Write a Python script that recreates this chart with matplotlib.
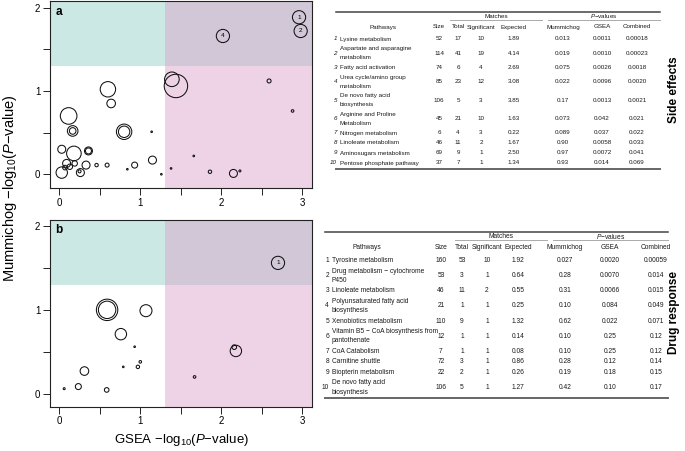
import matplotlib
matplotlib.use('Agg')
import matplotlib.pyplot as plt
from matplotlib.patches import Rectangle
from matplotlib.transforms import Affine2D

plt.rcParams['font.family'] = 'Liberation Sans'
plt.rcParams['mathtext.fontset'] = 'custom'
plt.rcParams['mathtext.rm'] = 'Liberation Sans'
plt.rcParams['mathtext.it'] = 'Liberation Sans:italic'
plt.rcParams['mathtext.bf'] = 'Liberation Sans:bold'

# ---- panel a: side effects (GSEA -log10 p, Mummichog -log10 p, bubble radius) ----
a_gsea = [2.59, 2.88, 1.39, 1.44, 2.23, 2.15, 1.86, 1.66, 1.38, 1.26, 1.14, 1.15,
          0.93, 0.84, 0.80, 0.80, 0.60, 0.64, 0.59, 0.46, 0.36, 0.36, 0.33, 0.26,
          0.25, 0.18, 0.165, 0.165, 0.115, 0.03, 0.03, 0.09, 0.19, 0.13, 0.07]
a_mum = [1.12, 0.76, 1.14, 1.06, 0.04, 0.01, 0.03, 0.22, 0.07, 0.00, 0.51, 0.17,
         0.11, 0.06, 0.51, 0.51, 1.02, 0.85, 0.11, 0.11, 0.28, 0.28, 0.11, 0.02,
         0.035, 0.25, 0.52, 0.52, 0.70, 0.30, 0.02, 0.13, 0.13, 0.09, 0.08]
a_rad = [2.0, 1.3, 7.3, 11.7, 1.0, 4.0, 1.7, 0.8, 0.8, 0.8, 0.8, 4.0,
         3.0, 0.8, 7.7, 5.7, 7.7, 4.3, 2.0, 1.7, 4.0, 3.0, 4.0, 4.0,
         1.5, 7.3, 5.3, 3.3, 8.3, 4.0, 5.7, 4.0, 2.7, 2.7, 2.3]
a_lab_gsea = [2.96, 2.98, 2.02]
a_lab_mum = [1.885, 1.72, 1.66]
a_lab_txt = ['1', '2', '4']

# ---- panel b: drug response ----
b_gsea = [0.59, 0.59, 1.07, 0.76, 0.93, 1.00, 0.97, 0.79, 0.31, 0.235, 0.585,
          0.06, 2.18, 2.16, 1.67]
b_mum = [1.00, 1.00, 0.99, 0.71, 0.56, 0.38, 0.32, 0.32, 0.27, 0.085, 0.045,
         0.06, 0.51, 0.555, 0.20]
b_rad = [10.7, 8.7, 6.0, 5.7, 0.8, 1.3, 1.7, 0.8, 4.3, 3.0, 2.3,
         1.0, 5.7, 2.3, 1.3]
b_lab_gsea = [2.70]
b_lab_mum = [1.56]
b_lab_txt = ['1']

# ---- tables ----
se_path = ['Lysine metabolism', 'Aspartate and asparagine\nmetabolism', 'Fatty acid activation',
           'Urea cycle/amino group\nmetabolism', 'De novo fatty acid\nbiosynthesis',
           'Arginine and Proline\nMetabolism', 'Nitrogen metabolism', 'Linoleate metabolism',
           'Aminosugars metabolism', 'Pentose phosphate pathway']
se_size = ['52', '114', '74', '85', '106', '45', '6', '46', '69', '37']
se_total = ['17', '41', '6', '23', '5', '21', '4', '11', '9', '7']
se_sig = ['10', '19', '4', '12', '3', '10', '3', '2', '1', '1']
se_exp = ['1.89', '4.14', '2.69', '3.08', '3.85', '1.63', '0.22', '1.67', '2.50', '1.34']
se_mum = ['0.013', '0.019', '0.075', '0.022', '0.17', '0.073', '0.089', '0.90', '0.97', '0.93']
se_gsea = ['0.0011', '0.0010', '0.0026', '0.0096', '0.0013', '0.042', '0.037', '0.0058', '0.0072', '0.014']
se_comb = ['0.00018', '0.00023', '0.0018', '0.0020', '0.0021', '0.021', '0.022', '0.033', '0.041', '0.069']

dr_path = ['Tyrosine metabolism', 'Drug metabolism \u2212 cytochrome\nP450', 'Linoleate metabolism',
           'Polyunsaturated fatty acid\nbiosynthesis', 'Xenobiotics metabolism',
           'Vitamin B5 \u2212 CoA biosynthesis from\npantothenate', 'CoA Catabolism',
           'Carnitine shuttle', 'Biopterin metabolism', 'De novo fatty acid\nbiosynthesis']
dr_size = ['160', '53', '46', '21', '110', '12', '7', '72', '22', '106']
dr_total = ['53', '3', '11', '1', '9', '1', '1', '3', '2', '5']
dr_sig = ['10', '1', '2', '1', '1', '1', '1', '1', '1', '1']
dr_exp = ['1.92', '0.64', '0.55', '0.25', '1.32', '0.14', '0.08', '0.86', '0.26', '1.27']
dr_mum = ['0.027', '0.28', '0.31', '0.10', '0.62', '0.10', '0.10', '0.28', '0.19', '0.42']
dr_gsea = ['0.0020', '0.0070', '0.0066', '0.084', '0.022', '0.25', '0.25', '0.12', '0.18', '0.10']
dr_comb = ['0.00059', '0.014', '0.015', '0.049', '0.071', '0.12', '0.12', '0.14', '0.15', '0.17']

headers = ['Size', 'Total', 'Significant', 'Expected', 'Mummichog', 'GSEA', 'Combined']

W, H = 685, 451
fig = plt.figure(figsize=(W / 100, H / 100), dpi=100)
px = Affine2D().scale(1 / W, -1 / H).translate(0, 1) + fig.transFigure

thr = 1.301
c_teal = '#cbe8e5'
c_purp = '#d1c7d7'
c_pink = '#eed3e6'


def scatter_panel(rect, ylim, gx, my, rad, lgx, lmy, ltxt, letter):
    ax = fig.add_axes(rect)
    x0, x1 = -0.115, 3.12
    y0, y1 = ylim
    ax.set_xlim(x0, x1)
    ax.set_ylim(y0, y1)
    ax.add_patch(Rectangle((x0, thr), thr - x0, y1 - thr, color=c_teal, lw=0, zorder=0))
    ax.add_patch(Rectangle((thr, thr), x1 - thr, y1 - thr, color=c_purp, lw=0, zorder=0))
    ax.add_patch(Rectangle((thr, y0), x1 - thr, thr - y0, color=c_pink, lw=0, zorder=0))
    sizes = [(1.44 * r) ** 2 for r in rad]
    ax.scatter(gx, my, s=sizes, facecolors='none', edgecolors='#111111', linewidths=0.75, zorder=3)
    ax.scatter(lgx, lmy, s=(1.44 * 6.6) ** 2, facecolors='none', edgecolors='#111111',
               linewidths=0.75, zorder=3)
    for x, y, t in zip(lgx, lmy, ltxt):
        ax.text(x, y, t, fontsize=4.6, ha='center', va='center', zorder=4)
    ax.set_xticks([0, 1, 2, 3])
    ax.set_xticks([0.5, 1.5, 2.5], minor=True)
    ax.set_yticks([0, 1, 2])
    ax.set_yticks([0.5, 1.5], minor=True)
    ax.tick_params(which='both', length=5, width=0.7, direction='out', labelsize=7,
                   color='#222222', pad=2)
    for sp in ax.spines.values():
        sp.set_linewidth(0.8)
        sp.set_color('#222222')
    ax.text(0.02, 0.975, letter, transform=ax.transAxes, fontsize=8.5, fontweight='bold',
            ha='left', va='top')
    return ax


scatter_panel([50 / W, 1 - 188 / H, 262 / W, 187 / H], (-0.165, 2.08),
              a_gsea, a_mum, a_rad, a_lab_gsea, a_lab_mum, a_lab_txt, 'a')
scatter_panel([50 / W, 1 - 406.7 / H, 262 / W, 187 / H], (-0.155, 2.075),
              b_gsea, b_mum, b_rad, b_lab_gsea, b_lab_mum, b_lab_txt, 'b')

fig.text(181 / W, 1 - 440 / H, r'GSEA $-$log$_{10}$($\it{P}$$-$value)', fontsize=9.5,
         ha='center', va='center')
fig.text(10 / W, 1 - 188 / H, r'Mummichog $-$log$_{10}$($\it{P}$$-$value)', fontsize=10.5,
         ha='center', va='center', rotation=90)


def hline(x0, x1, y, color, lw):
    fig.add_artist(plt.Line2D([x0, x1], [y, y], transform=px, color=color, lw=lw))


def draw_table(y_top, x0, x1, k, num_x, path_x, path_hdr_x, cols_x, m_span, p_span,
               paths, cols, num_italic):
    fs = 4.5 * k
    tc = '#1a1a1a'
    hline(x0, x1, y_top, '#444444', 1.1)
    hline(m_span[0], m_span[1], y_top + 8 * k, '#aaaaaa', 0.7)
    hline(p_span[0], p_span[1], y_top + 8 * k, '#aaaaaa', 0.7)
    fig.text(sum(m_span) / 2, y_top + 4.3 * k, 'Matches', transform=px, fontsize=fs,
             ha='center', va='center', color=tc)
    fig.text(sum(p_span) / 2, y_top + 4.3 * k, r'$\it{P}$$-$values', transform=px,
             fontsize=fs, ha='center', va='center', color=tc)
    yh = y_top + 15 * k
    fig.text(path_hdr_x, yh, 'Pathways', transform=px, fontsize=fs, ha='center',
             va='center', color=tc)
    for cx, h in zip(cols_x, headers):
        fig.text(cx, yh, h, transform=px, fontsize=fs, ha='center', va='center', color=tc)
    y = y_top + 22 * k
    for i, name in enumerate(paths):
        lines = name.split('\n')
        h = (10 if len(lines) == 1 else 18.5) * k
        yc = y + h / 2
        fig.text(num_x, yc, str(i + 1), transform=px, fontsize=fs, ha='right', va='center',
                 color=tc, style='italic' if num_italic else 'normal')
        if len(lines) == 1:
            fig.text(path_x, yc, lines[0], transform=px, fontsize=fs, ha='left',
                     va='center', color=tc)
        else:
            fig.text(path_x, yc - 4.3 * k, lines[0], transform=px, fontsize=fs, ha='left',
                     va='center', color=tc)
            fig.text(path_x, yc + 4.3 * k, lines[1], transform=px, fontsize=fs, ha='left',
                     va='center', color=tc)
        for cx, col in zip(cols_x, cols):
            fig.text(cx, yc, col[i], transform=px, fontsize=fs, ha='center', va='center',
                     color=tc)
        y += h
    hline(x0, x1, y + 0.5, '#666666', 1.4)


draw_table(12, 336, 660, 1.0, 337, 340, 383, [439, 458, 481, 514, 563, 602, 637],
           (450, 542), (548, 660), se_path,
           [se_size, se_total, se_sig, se_exp, se_mum, se_gsea, se_comb], True)
draw_table(232, 325, 668, 1.06, 329, 332, 367, [441, 462, 487, 518, 565, 610, 656],
           (455, 547), (553, 668), dr_path,
           [dr_size, dr_total, dr_sig, dr_exp, dr_mum, dr_gsea, dr_comb], False)

fig.text(674, 90, 'Side effects', transform=px, fontsize=8.5, fontweight='bold',
         rotation=90, ha='center', va='center')
fig.text(674, 312, 'Drug response', transform=px, fontsize=8.5, fontweight='bold',
         rotation=90, ha='center', va='center')

fig.savefig('out.png', dpi=100)
